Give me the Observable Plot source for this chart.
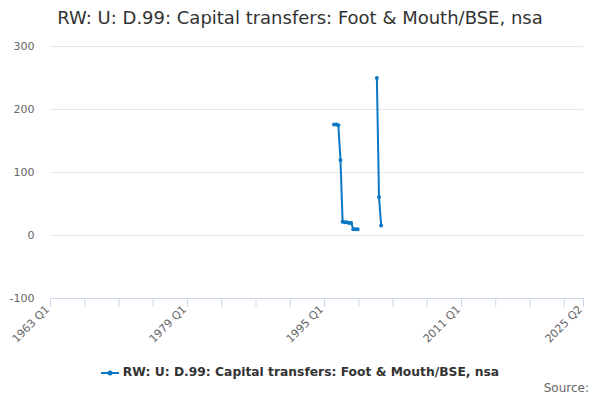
<!DOCTYPE html>
<html>
<head>
<meta charset="utf-8">
<script src="https://cdn.jsdelivr.net/npm/d3@7"></script>
<script src="https://cdn.jsdelivr.net/npm/@observablehq/plot@0.6"></script>
<style>
  body { margin: 0; background: #fff; font-family: "DejaVu Sans", sans-serif; }
  #wrap { width: 600px; height: 400px; position: relative; }
  #title { height: 36px; line-height: 36px; text-align: center; font-size: 18px; color: #333; }
  #legend { position: absolute; top: 365px; left: 0; width: 600px; text-align: center; font-size: 12.3px; font-weight: bold; color: #333; }
  #legend svg { vertical-align: middle; margin-right: 4px; }
  #source { position: absolute; top: 381px; right: 11px; font-size: 12px; color: #666; }
</style>
</head>
<body>
<div id="wrap">
  <div id="title">RW: U: D.99: Capital transfers: Foot &amp; Mouth/BSE, nsa</div>
  <div id="chart"></div>
  <div id="legend"><svg width="18" height="10"><line x1="0" y1="5" x2="18" y2="5" stroke="#0a78c2" stroke-width="2"/><circle cx="9" cy="5" r="2.5" fill="#0a78c2"/></svg>RW: U: D.99: Capital transfers: Foot &amp; Mouth/BSE, nsa</div>
  <div id="source">Source:</div>
</div>
<script>
const seriesName = "RW: U: D.99: Capital transfers: Foot & Mouth/BSE, nsa";
const firstPeriod = "1963 Q1";
const lastPeriod = "2025 Q2";
const periods = ["1996 Q1","1996 Q2","1996 Q3","1996 Q4","1997 Q1","1997 Q2","1997 Q3","1997 Q4","1998 Q1","1998 Q2","1998 Q3","1998 Q4","1999 Q1","2001 Q1","2001 Q2","2001 Q3"];
const values  = [176, 176, 175, 120, 22, 21, 21, 20, 20, 10, 10, 10, null, 250, 61, 16];
const xTickLabels = ["1963 Q1","1979 Q1","1995 Q1","2011 Q1","2025 Q2"];
const yTicks = [-100, 0, 100, 200, 300];

const qIndex = s => { const [y, q] = s.split(" Q"); return (+y - 1963) * 4 + (+q - 1); };
const lastIdx = qIndex(lastPeriod);
const data = periods.map((p, i) => ({x: qIndex(p), y: values[i]}));
const minorTicks = d3.range(0, lastIdx, 16).concat([lastIdx]);
const labelTicks = xTickLabels.map(qIndex);
const labelOf = new Map(xTickLabels.map(s => [qIndex(s), s]));
const color = "#0a78c2";

const chart = Plot.plot({
  width: 600,
  height: 319,
  marginLeft: 50,
  marginRight: 17,
  marginTop: 10,
  marginBottom: 57,
  style: {fontFamily: "DejaVu Sans, sans-serif", fontSize: "11px", color: "#666"},
  x: {domain: [0, lastIdx], axis: null},
  y: {domain: [-100, 300], axis: null},
  marks: [
    Plot.ruleY(yTicks.filter(d => d > -100), {stroke: "#e6e6e6"}),
    Plot.ruleY([-100], {stroke: "#ccd6eb"}),
    Plot.axisY({ticks: yTicks, tickSize: 0, tickPadding: 16, fill: "#666", fontSize: 11, tickFormat: d => String(d), label: null}),
    Plot.axisX({ticks: minorTicks, tickSize: 9, stroke: "#ccd6eb", tickFormat: () => "", label: null}),
    Plot.axisX({ticks: labelTicks, tickSize: 0, tickPadding: 6, tickRotate: -45, tickFormat: d => labelOf.get(d), fill: "#666", fontSize: 11, label: null, dx: -3, dy: 3}),
    Plot.line(data, {x: "x", y: "y", stroke: color, strokeWidth: 2, dx: 1}),
    Plot.dot(data.filter(d => d.y != null), {x: "x", y: "y", fill: color, r: 2, dx: 1})
  ]
});
document.getElementById("chart").appendChild(chart);
</script>
</body>
</html>
